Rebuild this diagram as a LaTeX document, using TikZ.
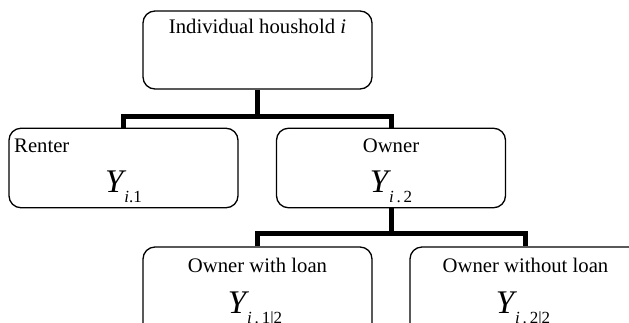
\documentclass[tikz,border=0pt]{standalone}
\usepackage{fontspec}
\setmainfont{Liberation Serif}
\newcommand\Ylab[2]{{\fontsize{33}{33}\selectfont\itshape Y}\kern1pt\raisebox{-10pt}{\fontsize{17}{17}\selectfont\itshape #1\upshape #2}}
\tikzset{
  box/.style={draw, line width=1.3pt, rounded corners=12pt, inner sep=0pt, minimum width=229pt},
  conn/.style={line width=5pt, line join=miter},
  lbl/.style={anchor=base, inner sep=0pt, font=\fontsize{20.7}{24}\selectfont},
  ylbl/.style={anchor=base, inner sep=0pt}
}
\begin{document}
\begin{tikzpicture}[x=1pt, y=-1pt]
\useasboundingbox (0,0) rectangle (629,322);
\clip (0,0) rectangle (629,322);
% boxes
\node[box, minimum height=78pt] (top) at (257.5,50) {};
\node[box, minimum height=79.5pt] (renter) at (123.5,168) {};
\node[box, minimum height=79.5pt] (owner) at (391,168) {};
\node[box, minimum height=100pt] (loan) at (257.5,297) {};
\node[box, minimum height=100pt, minimum width=231pt] (noloan) at (525.5,297) {};
% labels
\node[lbl] (tt) at (257.5,33) {Individual houshold \textit{i}};
\node[lbl, anchor=base west] (rt) at (14,152) {Renter};
\node[ylbl] (ry) at (123.5,192) {\Ylab{i}{.1}};
\node[lbl] (ot) at (391,152) {Owner};
\node[ylbl] (oy) at (391,192) {\Ylab{i}{\,.\,2}};
\node[lbl] (lt) at (257.5,272) {Owner with loan};
\node[ylbl] (ly) at (255,313) {\Ylab{i}{\,.\,1|2}};
\node[lbl] (nt) at (525.5,272) {Owner without loan};
\node[ylbl] (ny) at (523,313) {\Ylab{i}{\,.\,2|2}};
% connectors
\coordinate (j1) at (257.5,116);
\coordinate (j2) at (391,233);
\draw[conn] (top.south) -- (j1);
\draw[conn] (renter.north) |- (j1) -| (owner.north);
\draw[conn] (owner.south) -- (j2);
\draw[conn] (loan.north) |- (j2) -| (noloan.north);
\end{tikzpicture}
\end{document}
